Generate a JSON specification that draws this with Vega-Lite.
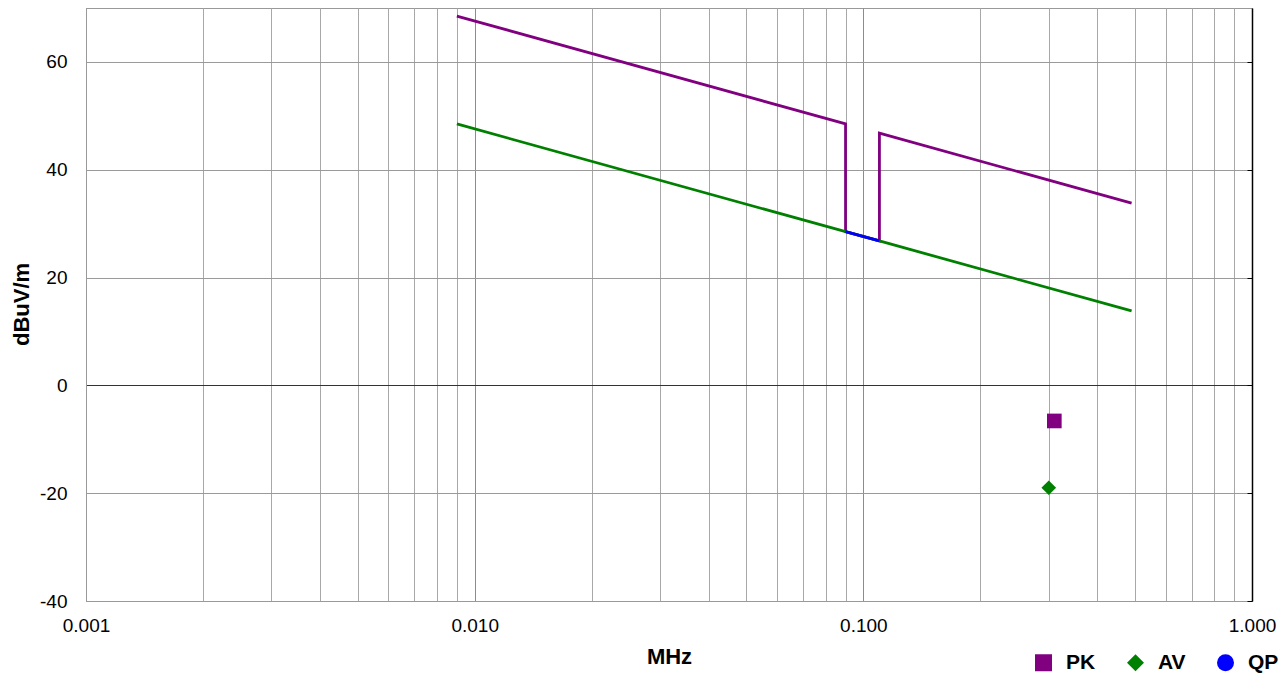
{
  "$schema": "https://vega.github.io/schema/vega-lite/v6.json",
  "width": 1166,
  "height": 593,
  "autosize": {"type": "none"},
  "padding": {"left": 86, "top": 8, "right": 32, "bottom": 76},
  "background": "white",
  "config": {
    "view": {"stroke": "#999999", "strokeWidth": 1},
    "font": "Liberation Sans",
    "axis": {"labelFont": "Liberation Sans", "titleFont": "Liberation Sans"},
    "legend": {"labelFont": "Liberation Sans"}
  },
  "datasets": {
    "limits": [
      {"series": "PK", "i": 0, "f": 0.009, "v": 68.5},
      {"series": "PK", "i": 1, "f": 0.09, "v": 48.5},
      {"series": "PK", "i": 2, "f": 0.09, "v": 28.5},
      {"series": "PK", "i": 3, "f": 0.11, "v": 26.8},
      {"series": "PK", "i": 4, "f": 0.11, "v": 46.8},
      {"series": "PK", "i": 5, "f": 0.49, "v": 33.8},
      {"series": "AV", "i": 0, "f": 0.009, "v": 48.5},
      {"series": "AV", "i": 1, "f": 0.09, "v": 28.5},
      {"series": "AV", "i": 2, "f": 0.11, "v": 26.8},
      {"series": "AV", "i": 3, "f": 0.49, "v": 13.8},
      {"series": "QP", "i": 0, "f": 0.09, "v": 28.5},
      {"series": "QP", "i": 1, "f": 0.11, "v": 26.8}
    ],
    "measured": [
      {"series": "PK", "f": 0.31, "v": -6.6},
      {"series": "AV", "f": 0.3, "v": -19.0}
    ]
  },
  "resolve": {"axis": {"y": "independent"}},
  "layer": [
    {
      "data": {"name": "limits"},
      "transform": [{"filter": "datum.series == 'PK'"}],
      "mark": {"type": "line", "color": "#800080", "strokeWidth": 2.8},
      "encoding": {
        "x": {
          "field": "f", "type": "quantitative", "title": "MHz",
          "scale": {"type": "log", "domain": [0.001, 1], "nice": false},
          "axis": {
            "values": [0.001, 0.002, 0.003, 0.004, 0.005, 0.006, 0.007, 0.008, 0.009,
                       0.01, 0.02, 0.03, 0.04, 0.05, 0.06, 0.07, 0.08, 0.09,
                       0.1, 0.2, 0.3, 0.4, 0.5, 0.6, 0.7, 0.8, 0.9, 1],
            "labelExpr": "abs(log(datum.value)/LN10 - round(log(datum.value)/LN10)) < 0.001 ? format(datum.value, '.3f') : ''",
            "labelOverlap": false,
            "labelBound": false,
            "labelFlush": false,
            "labelFontSize": 19,
            "labelColor": "#000000",
            "labelPadding": 15,
            "ticks": false,
            "domainColor": "#999999",
            "grid": true,
            "gridColor": {
              "condition": {"test": "abs(log(datum.value)/LN10 - round(log(datum.value)/LN10)) < 0.001", "value": "#8c8c8c"},
              "value": "#a8a8a8"
            },
            "gridWidth": 1,
            "titleFontSize": 22,
            "titleFontWeight": "bold",
            "titleColor": "#000000",
            "titleX": 583,
            "titleY": 55,
            "titleBaseline": "middle",
            "titleAlign": "center"
          }
        },
        "y": {
          "field": "v", "type": "quantitative", "title": "dBuV/m",
          "scale": {"domain": [-40, 70], "nice": false, "zero": false},
          "axis": {
            "values": [-40, -20, 0, 20, 40, 60],
            "labelExpr": "datum.value + ''",
            "labelFontSize": 19,
            "labelColor": "#000000",
            "labelPadding": 19,
            "ticks": false,
            "domainColor": "#999999",
            "grid": true,
            "gridColor": {"condition": {"test": "datum.value == 0", "value": "#333333"}, "value": "#9a9a9a"},
            "gridWidth": 1,
            "titleFontSize": 22,
            "titleFontWeight": "bold",
            "titleColor": "#000000",
            "titleAngle": 270,
            "titleX": -65,
            "titleY": 296,
            "titleAlign": "center",
            "titleBaseline": "middle"
          }
        },
        "order": {"field": "i", "type": "quantitative"}
      }
    },
    {
      "data": {"name": "limits"},
      "transform": [{"filter": "datum.series == 'AV'"}],
      "mark": {"type": "line", "color": "#008000", "strokeWidth": 2.8},
      "encoding": {
        "x": {"field": "f", "type": "quantitative", "title": "MHz", "scale": {"type": "log", "domain": [0.001, 1], "nice": false}},
        "y": {"field": "v", "type": "quantitative", "title": "dBuV/m", "axis": null},
        "order": {"field": "i", "type": "quantitative"}
      }
    },
    {
      "data": {"name": "limits"},
      "transform": [{"filter": "datum.series == 'QP'"}],
      "mark": {"type": "line", "color": "#0000ff", "strokeWidth": 2.8},
      "encoding": {
        "x": {"field": "f", "type": "quantitative", "title": "MHz", "scale": {"type": "log", "domain": [0.001, 1], "nice": false}},
        "y": {"field": "v", "type": "quantitative", "title": "dBuV/m", "axis": null},
        "order": {"field": "i", "type": "quantitative"}
      }
    },
    {
      "data": {"name": "measured"},
      "mark": {"type": "point", "filled": true, "opacity": 1, "size": 215},
      "encoding": {
        "x": {"field": "f", "type": "quantitative", "title": "MHz", "scale": {"type": "log", "domain": [0.001, 1], "nice": false}},
        "y": {
          "field": "v", "type": "quantitative", "title": null,
          "axis": {
            "orient": "right",
            "values": [-40, -20, 0, 20, 40, 60],
            "labels": false,
            "grid": false,
            "ticks": true,
            "tickSize": -5,
            "tickColor": "#000000",
            "domainColor": "#000000",
            "domainWidth": 1.5
          }
        },
        "color": {
          "field": "series", "type": "nominal",
          "scale": {"domain": ["PK", "AV", "QP"], "range": ["#800080", "#008000", "#0000ff"]},
          "legend": {
            "title": null,
            "orient": "none",
            "direction": "horizontal",
            "legendX": 947,
            "legendY": 644,
            "symbolSize": 289,
            "symbolType": "square",
            "labelFontSize": 21,
            "labelFontWeight": "bold",
            "labelColor": "#000000",
            "labelOffset": 12,
            "columnPadding": 29
          }
        },
        "shape": {
          "field": "series", "type": "nominal",
          "scale": {"domain": ["PK", "AV", "QP"], "range": ["square", "diamond", "circle"]}
        }
      }
    }
  ]
}
